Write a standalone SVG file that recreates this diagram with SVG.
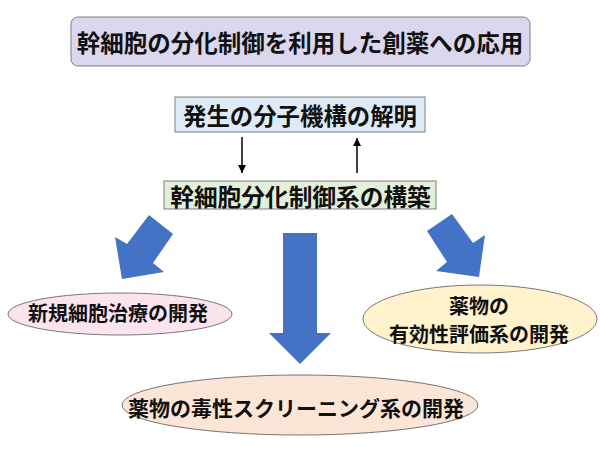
<svg xmlns="http://www.w3.org/2000/svg" width="600" height="450" viewBox="0 0 600 450">
<defs>
<style>
text{font-family:"Noto Sans CJK JP","Noto Sans CJK SC",sans-serif;font-weight:bold;fill:#111;text-anchor:middle;dominant-baseline:central}
.box{stroke:#7f7f7f;stroke-width:1}
.big{fill:#4472c4}
.thin{stroke:#000;stroke-width:1.5;fill:none}
</style>
<marker id="ah" viewBox="0 0 8 10" refX="8" refY="5" markerWidth="8" markerHeight="10" markerUnits="userSpaceOnUse" orient="auto">
<path d="M0,1 L8,5 L0,9 Z" fill="#000"/>
</marker>
</defs>
<rect width="600" height="450" fill="#fff"/>
<g id="title">
<rect class="box" x="71" y="17" width="459" height="49" rx="7" fill="#dad7ee"/>
<text x="300" y="42" font-size="23.5">幹細胞の分化制御を利用した創薬への応用</text>
</g>
<g id="mechanism">
<rect class="box" x="175" y="97" width="250" height="35" fill="#deebf7"/>
<text x="300" y="115" font-size="23.4">発生の分子機構の解明</text>
</g>
<g id="control">
<rect class="box" x="164" y="181" width="272" height="28" fill="#e2efda"/>
<text x="300.5" y="195.5" font-size="23.7">幹細胞分化制御系の構築</text>
</g>
<g id="connectors">
<line class="thin" x1="242" y1="137" x2="242" y2="173" marker-end="url(#ah)"/>
<line class="thin" x1="357" y1="173" x2="357" y2="138" marker-end="url(#ah)"/>
<polygon class="big" points="149,215 173,234 153,263 164,272 122,279 115,237 127,244"/>
<polygon class="big" points="283,233 317,233 317,333 331,333 300,364 269,333 283,333"/>
<polygon class="big" points="452,214 427,231 447,262 436,271 479,277 485,235 473,243"/>
</g>
<g id="cell-therapy">
<ellipse cx="120" cy="314" rx="112" ry="21" fill="#fbe4ee" stroke="#777"/>
<text x="118" y="312" font-size="20">新規細胞治療の開発</text>
</g>
<g id="efficacy">
<ellipse cx="480" cy="319" rx="117" ry="34" fill="#fff2cc" stroke="#777"/>
<text x="479" y="305" font-size="20">薬物の</text>
<text x="479" y="333" font-size="20">有効性評価系の開発</text>
</g>
<g id="toxicity">
<ellipse cx="300" cy="405" rx="178" ry="30" fill="#fbe5d6" stroke="#777"/>
<text x="296" y="407" font-size="21">薬物の毒性スクリーニング系の開発</text>
</g>
</svg>
